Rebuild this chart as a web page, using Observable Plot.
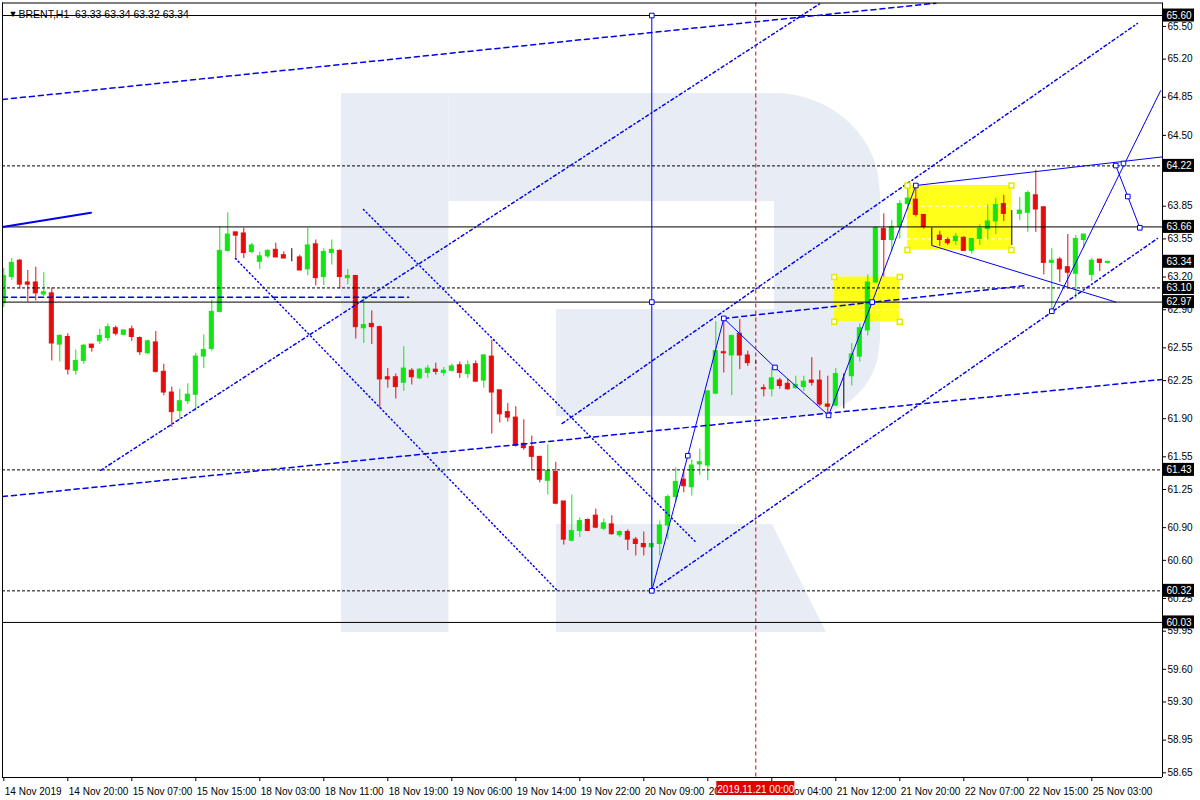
<!DOCTYPE html>
<html><head><meta charset="utf-8">
<script src="https://cdn.jsdelivr.net/npm/d3@7"></script>
<script src="https://cdn.jsdelivr.net/npm/@observablehq/plot@0.6"></script>
<style>
body{margin:0;background:#fff;}
#chart svg{display:block;}
</style></head><body><div id="chart"></div>
<script>
// ---- candle data (bar index = position in arrays) ----
const opens = [62.96,63.20,63.35,63.15,63.15,63.04,63.05,62.58,62.65,62.34,62.43,62.58,62.61,62.64,62.73,62.67,62.72,62.64,62.50,62.60,
62.33,62.14,61.97,62.06,62.12,62.47,62.54,62.88,63.44,63.61,63.60,63.43,63.34,63.39,63.45,63.40,63.38,63.38,63.27,63.50,
63.20,63.42,63.44,63.19,63.21,62.73,62.77,62.74,62.28,62.28,62.23,62.34,62.27,62.32,62.35,62.32,62.34,62.39,62.31,62.40,
62.25,62.47,62.16,61.96,61.91,61.67,61.64,61.55,61.33,61.41,61.14,60.78,60.87,60.97,61.01,60.89,60.93,60.83,60.86,60.79,
60.75,60.72,60.75,60.92,61.18,61.34,61.27,61.48,61.47,62.13,62.51,62.48,62.68,62.48,62.42,62.18,62.17,62.25,62.22,62.18,
62.19,62.25,62.25,62.03,62.02,62.30,62.29,62.47,62.71,63.15,63.64,63.54,63.66,63.87,63.91,63.77,63.57,63.58,63.54,63.53,
63.56,63.44,63.55,63.64,63.71,63.87,63.78,63.78,63.79,63.95,63.84,63.33,63.36,63.29,63.23,63.54,63.22,63.36,63.33];
const highs = [63.28,63.37,63.36,63.26,63.29,63.24,63.10,62.67,62.68,62.53,62.58,62.58,62.72,62.77,62.75,62.71,62.75,62.65,62.62,62.70,
62.40,62.19,62.17,62.22,62.50,62.67,62.99,63.66,63.79,63.61,63.65,63.51,63.43,63.45,63.51,63.43,63.46,63.40,63.65,63.54,
63.46,63.54,63.45,63.27,63.21,63.02,62.89,62.75,62.36,62.31,62.56,62.36,62.36,62.39,62.41,62.37,62.40,62.42,62.43,62.43,
62.49,62.62,62.16,62.04,62.01,61.89,61.74,61.55,61.66,61.50,61.14,61.20,60.99,60.98,61.07,60.98,61.01,60.87,60.88,60.81,
60.86,60.75,60.96,61.20,61.45,61.42,61.52,61.62,62.16,62.79,62.80,62.66,62.81,62.52,62.43,62.21,62.37,62.27,62.26,62.29,
62.29,62.46,62.34,62.29,62.36,62.31,62.59,62.77,63.22,63.66,63.78,63.72,63.90,64.03,64.04,63.77,63.65,63.62,63.56,63.60,
63.57,63.55,63.68,63.86,63.92,63.95,63.81,63.93,63.99,64.18,63.84,63.46,63.38,63.59,63.58,63.59,63.37,63.36,63.34];
const lows = [62.92,63.17,63.09,62.97,62.98,63.02,62.43,62.42,62.30,62.30,62.40,62.51,62.58,62.61,62.66,62.66,62.61,62.48,62.49,62.32,
62.11,61.82,61.89,62.03,61.97,62.36,62.52,62.87,63.43,63.36,63.37,63.41,63.27,63.37,63.38,63.37,63.34,63.26,63.21,63.12,
63.12,63.31,63.09,63.13,62.63,62.59,62.58,62.00,62.18,62.08,62.15,62.21,62.26,62.27,62.30,62.29,62.33,62.27,62.27,62.24,
62.18,61.76,61.86,61.87,61.64,61.61,61.42,61.31,61.20,61.11,60.74,60.77,60.81,60.87,60.89,60.87,60.83,60.81,60.69,60.64,
60.64,60.32,60.64,60.79,61.13,61.22,61.19,61.38,61.33,62.12,62.32,62.11,62.35,62.38,62.40,62.10,62.10,62.17,62.16,62.17,
62.15,62.20,62.01,61.92,62.01,61.99,62.20,62.42,62.66,63.14,63.20,63.43,63.55,63.81,63.75,63.64,63.49,63.48,63.49,63.49,
63.44,63.41,63.49,63.54,63.59,63.71,63.49,63.72,63.61,63.61,63.22,62.88,63.15,63.09,63.00,63.46,63.16,63.25,63.32];
const closes = [63.21,63.33,63.13,63.13,63.05,63.06,62.59,62.66,62.35,62.43,62.57,62.55,62.66,62.74,62.68,62.71,62.65,62.51,62.61,62.33,
62.14,61.96,62.06,62.12,62.47,62.53,62.88,63.44,63.59,63.58,63.42,63.49,63.39,63.44,63.38,63.37,63.38,63.26,63.49,63.19,
63.43,63.45,63.20,63.21,62.74,62.76,62.74,62.26,62.26,62.19,62.36,62.28,62.35,62.36,62.33,62.34,62.38,62.32,62.39,62.24,
62.48,62.14,61.94,61.91,61.65,61.63,61.55,61.34,61.42,61.12,60.79,60.87,60.96,60.87,60.90,60.94,60.84,60.86,60.79,60.75,
60.72,60.75,60.92,61.18,61.32,61.28,61.47,61.50,62.15,62.52,62.50,62.66,62.48,62.41,62.42,62.17,62.27,62.20,62.17,62.21,
62.24,62.23,62.03,62.01,62.31,62.30,62.49,62.73,63.15,63.65,63.54,63.66,63.87,63.92,63.77,63.66,63.57,63.54,63.51,63.57,
63.44,63.55,63.64,63.71,63.86,63.78,63.78,63.81,63.97,63.82,63.33,63.35,63.27,63.24,63.55,63.59,63.35,63.33,63.34];

// ---- axis data ----
const tickBars = [0,8,16,24,32,40,48,56,64,72,80,88,96,104,112,120,128,136];
const tickLabels = ["14 Nov 2019","14 Nov 20:00","15 Nov 07:00","15 Nov 15:00","18 Nov 03:00","18 Nov 11:00","18 Nov 19:00","19 Nov 06:00","19 Nov 14:00","19 Nov 22:00","20 Nov 09:00","20 Nov 17:00","21 Nov 04:00","21 Nov 12:00","21 Nov 20:00","22 Nov 07:00","22 Nov 15:00","25 Nov 03:00"];
const priceTicks = [65.50,65.20,64.85,64.50,64.20,63.85,63.55,63.20,62.90,62.55,62.25,61.90,61.55,61.25,60.90,60.60,60.25,59.95,59.60,59.30,58.95,58.65];
const markedLevels = [65.60,64.22,63.66,63.34,63.10,62.97,61.43,60.32,60.03];
const solidLevels = [65.60,63.66,62.97,60.03];
const dashedLevels = [64.22,63.10,61.43,60.32];
const symbolName = "BRENT,H1";
const cursorBar = 94;
const cursorLabel = "2019.11.21 00:00";

// ---- drawn objects (bar index, price) ----
const dashedTrends = [
  [[-0.16,64.83],[116.5,65.713]],
  [[-0.16,61.185],[144.84,62.26]],
  [[90,62.82],[127.5,63.12]],
  [[-0.16,63.014],[50.6,63.014]]
];
const dashDotTrends = [
  [[12.1,61.425],[102.1,65.713]],
  [[69.8,61.856],[141.7,65.527]],
  [[81,60.32],[144.2,63.554]]
];
const dottedTrends = [
  [[44.96,63.82],[86.6,60.76]],
  [[28.96,63.37],[69.3,60.314]]
];
const thickTrend = [[-0.16,63.66],[10.9,63.79]];
const waves = [
  [[81,60.32],[85.5,61.56],[90,62.82]],
  [[90,62.82],[96.4,62.37],[103.1,61.93]],
  [[103.1,61.93],[108.55,62.97],[114,64.04]],
  [[114,64.04],[144.84,64.303]],
  [[116,63.49],[139,62.97]],
  [[131,62.886],[144.6,64.91]],
  [[139,64.223],[140.5,63.939],[142,63.652]]
];
const wavePoints = [[81,60.32],[85.5,61.56],[90,62.82],[96.4,62.37],[103.1,61.93],[108.55,62.97],[114,64.04],[131,62.886],[139.96,64.242],[139,64.223],[140.5,63.939],[142,63.652],[81,65.60],[81,62.97]];
const verticalRay = {bar:81, from:60.32, to:65.60};
const boxes = [{x1:103.8,x2:112,y1:62.79,y2:63.20},{x1:112.96,x2:125.96,y1:63.448,y2:64.04}];
const boxLevels = [{x1:103.8,x2:112,y:62.90},{x1:112.96,x2:125.96,y:63.85},{x1:112.96,x2:125.96,y:63.55}];

// ---- watermark logo (bar, price) ----
const logoRects = [
  {x1:42.21,x2:55.65,y1:59.937,y2:64.884},
  {x1:55.65,x2:96.4,y1:63.893,y2:64.884},
  {x1:69.09,x2:100.3,y1:61.92,y2:62.902}
];
const logoLeg = [{x:69.09,y1:59.937,y2:60.929},{x:96.09,y1:59.937,y2:60.929},{x:102.84,y1:59.937,y2:59.937}];
const bowl = [];
for (let j = 0; j <= 40; j++) {
  const x = 96.34 + 13.25 * j / 40;
  const top = 63.967 + 0.917 * Math.sqrt(Math.max(0, 1 - ((x - 96.34) / 13.25) ** 2));
  const bot = x <= 100.21 ? 61.92 : 62.618 - 0.698 * Math.sqrt(Math.max(0, 1 - ((x - 100.21) / 9.38) ** 2));
  bowl.push({x, y1: bot, y2: top});
}

const xMin = -0.1625, xMax = 144.8375, yMin = 58.607, yMax = 65.715;
const GREEN = "#12e412", RED = "#e60c0c", BLUE = "#0000f0", LOGO = "#e8edf5";
const candles = opens.map((o, i) => ({i, o, h: highs[i], l: lows[i], c: closes[i]}));
const col = d => d.c > d.o ? GREEN : d.c < d.o ? RED : "#000000";
const last = candles[candles.length - 1];
const header = `${symbolName}\u00a0\u00a0${last.o.toFixed(2)} ${last.h.toFixed(2)} ${last.l.toFixed(2)} ${last.c.toFixed(2)}`;

const lineMarks = (sets, opts) => sets.map(pts => Plot.line(pts, {x: d => d[0], y: d => d[1], clip: true, ...opts}));
const corners = boxes.flatMap(b => [[b.x1,b.y1],[b.x2,b.y1],[b.x1,b.y2],[b.x2,b.y2]]);

const chart = Plot.plot({
  width: 1200, height: 800,
  marginLeft: 2, marginRight: 38, marginTop: 2.5, marginBottom: 23,
  x: {domain: [xMin, xMax], axis: null},
  y: {domain: [yMin, yMax], axis: null},
  color: {type: "identity"},
  style: {fontFamily: "'Liberation Sans', Arial, sans-serif", fontSize: "10px", background: "#fff", overflow: "visible"},
  marks: [
    // watermark
    Plot.rect(logoRects, {x1: "x1", x2: "x2", y1: "y1", y2: "y2", fill: LOGO}),
    Plot.areaY(logoLeg, {x: "x", y1: "y1", y2: "y2", fill: LOGO}),
    Plot.areaY(bowl, {x: "x", y1: "y1", y2: "y2", fill: LOGO}),
    // yellow rectangles
    Plot.rect(boxes, {x1: "x1", x2: "x2", y1: "y1", y2: "y2", fill: "#ffff00", fillOpacity: 0.9}),
    Plot.ruleY(boxLevels, {x1: "x1", x2: "x2", y: "y", stroke: "#fff", strokeDasharray: "4,3"}),
    // candles
    Plot.ruleX(candles, {x: "i", y1: "l", y2: "h", stroke: col, clip: true}),
    Plot.rect(candles, {x1: d => d.i - 0.25, x2: d => d.i + 0.25, y1: "o", y2: "c", fill: col, stroke: col, clip: true}),
    // horizontal levels
    Plot.ruleY(solidLevels, {y: d => d, stroke: "#000"}),
    Plot.ruleY(dashedLevels, {y: d => d, stroke: "#000", strokeDasharray: "3,2"}),
    // trend lines
    ...lineMarks(dashedTrends, {stroke: BLUE, strokeDasharray: "5,4"}),
    ...lineMarks(dashDotTrends, {stroke: BLUE, strokeDasharray: "3,3,1,3"}),
    ...lineMarks(dottedTrends, {stroke: BLUE, strokeDasharray: "1,3"}),
    Plot.line(thickTrend, {x: d => d[0], y: d => d[1], stroke: BLUE, strokeWidth: 2, clip: true}),
    ...lineMarks(waves, {stroke: BLUE, strokeWidth: 1}),
    Plot.ruleX([verticalRay], {x: "bar", y1: "from", y2: "to", stroke: BLUE}),
    Plot.dot(wavePoints, {x: d => d[0], y: d => d[1], symbol: "square", r: 2.6, stroke: BLUE, fill: "#fff", strokeWidth: 1}),
    Plot.dot(corners, {x: d => d[0], y: d => d[1], symbol: "square", r: 2.8, stroke: "#e8e800", fill: "#fff", strokeWidth: 1.5}),
    // crosshair
    Plot.ruleX([cursorBar], {x: d => d, stroke: "#d00000", strokeDasharray: "4,3"}),
    // frame
    Plot.ruleX([xMin, xMax], {x: d => d, stroke: "#000"}),
    Plot.ruleY([yMin, yMax], {y: d => d, stroke: "#000"}),
    // y axis
    Plot.ruleY(priceTicks, {y: d => d, x1: xMax, x2: xMax, insetRight: -4, stroke: "#000"}),
    Plot.text(priceTicks, {x: xMax, y: d => d, text: d => d.toFixed(2), textAnchor: "start", dx: 5, fill: "#000"}),
    Plot.rect(markedLevels, {x1: xMax, x2: xMax, y1: d => d, y2: d => d, insetRight: -32, insetTop: -6.5, insetBottom: -6.5, fill: "#000"}),
    Plot.text(markedLevels, {x: xMax, y: d => d, text: d => d.toFixed(2), textAnchor: "start", dx: 4, fill: "#fff"}),
    // x axis
    Plot.ruleX(tickBars, {x: d => d, y1: yMin, y2: yMin, insetBottom: -4, stroke: "#000"}),
    Plot.text(tickBars, {x: d => d, y: yMin, text: (d, i) => tickLabels[i], textAnchor: "start", dx: 1, dy: 14, fill: "#000"}),
    Plot.rect([cursorBar], {x1: d => d, x2: d => d, y1: yMin, y2: yMin, insetLeft: -39, insetRight: -39, insetTop: 4, insetBottom: -18, fill: "#e00000"}),
    Plot.text([cursorLabel], {x: cursorBar, y: yMin, text: d => d, dy: 12, fill: "#fff"}),
    // header
    Plot.text(["\u25BC"], {frameAnchor: "top-left", dx: 6, dy: 8, text: d => d, fontSize: 9, fill: "#000"}),
    Plot.text([header], {frameAnchor: "top-left", dx: 16, dy: 8, text: d => d, textAnchor: "start", fontSize: 10.5, fill: "#000"})
  ]
});
document.getElementById("chart").appendChild(chart);
</script></body></html>
